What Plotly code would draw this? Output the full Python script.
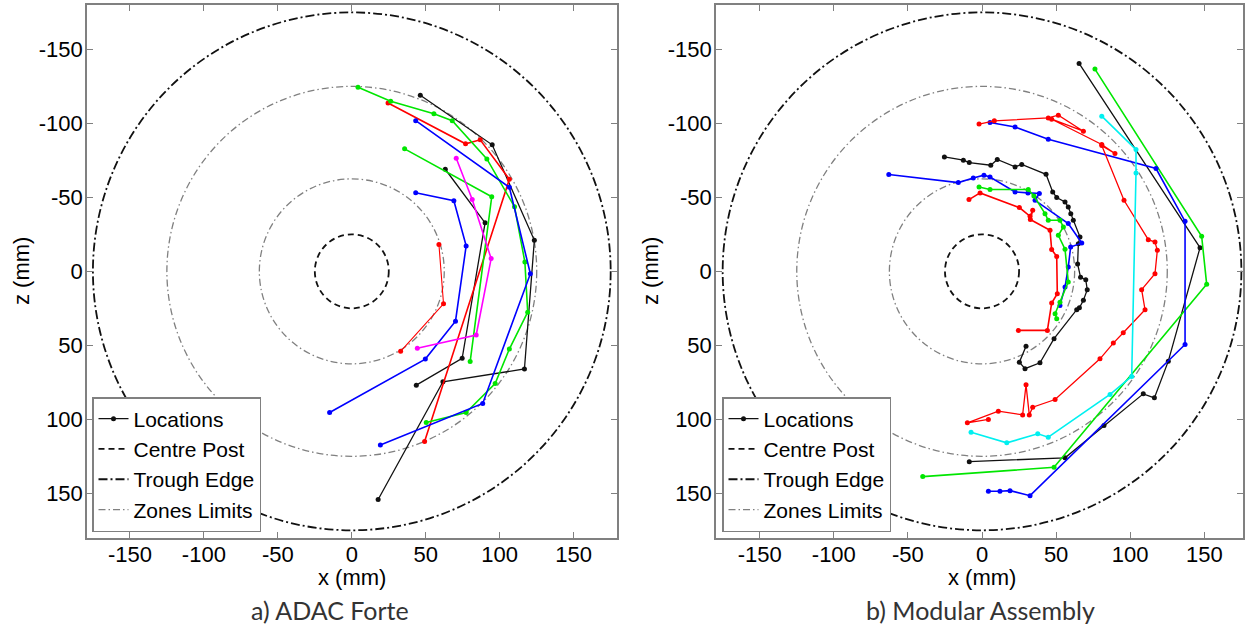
import plotly.graph_objects as go

# ---------------- data (mm) ----------------
tick_vals = [-150, -100, -50, 0, 50, 100, 150]
tick_text = ["-150", "-100", "-50", "0", "50", "100", "150"]

centre_post_r = 25
zone_r = [62.5, 125]
trough_r = 175

# Panel a) ADAC Forte
a_black1_x = [46.3, 94.9, 123.4, 116.7, 61.6, 17.8]
a_black1_z = [-119, -85.5, -21, 66, 74.6, 154.2]
a_black2_x = [63.2, 90.1, 74.6, 43.6]
a_black2_z = [-69, -32.8, 58.8, 76.9]
a_red1_x = [24.5, 76.9, 86.8, 106.5, 49.2]
a_red1_z = [-113.8, -86.2, -88.9, -62.2, 115]
a_red2_x = [58.9, 62, 33]
a_red2_z = [-18.1, 21.9, 54]
a_green1_x = [4.2, 26.3, 55.5, 67.9, 91.3, 110, 117, 118.9, 106.5, 96.9, 77.3, 50.3]
a_green1_z = [-124.4, -114.9, -106.5, -101.8, -76, -43.6, -6.3, 27.6, 52.5, 75.8, 95.4, 102.2]
a_green2_x = [35.7, 94.6, 80]
a_green2_z = [-82.8, -50.4, 61]
a_blue1_x = [43.2, 106.5, 120.7, 88.5, 19.3]
a_blue1_z = [-101.8, -56.8, 1.6, 89.3, 117.4]
a_blue2_x = [43.2, 69, 77.3, 70.1, 49.7, -15]
a_blue2_z = [-53.1, -47.7, -17.2, 33.7, 59.3, 95.4]
a_mag_x = [70.6, 81.4, 94.2, 84.1, 44.3]
a_mag_z = [-76.4, -48.6, -8.6, 43, 52]

# Panel b) Modular Assembly
b_black1_x = [65.5, 147.1, 125.7, 116.3, 108.8, 82.3, 56, -8.6]
b_black1_z = [-140.5, -16, 60.7, 85.5, 82.8, 104.2, 126, 128.6]
b_green1_x = [76.2, 148.2, 151.6, 48.6, -40]
b_green1_z = [-136.7, -23.7, 8.8, 132.4, 138.7]
b_blue1_x = [5.4, 22.3, 44.7, 117.4, 137, 137, 32.4, 18.9, 12.1, 4.3]
b_blue1_z = [-100.6, -97.6, -89.3, -69.5, -33.8, 49.4, 151.6, 148.2, 148.6, 148.6]
b_red1_x = [-2, 8.3, 44.7, 51.5, 68.4, 47, 80.8, 89.7, 80.8, 95.8, 112.2, 116.7, 118.3,
            116.7, 107.7, 110, 95.3, 88.6, 79.6, 49.3, 34.2, 31.9, 29.7, 27.4, 11, -9.9, 4.3]
b_red1_z = [-99.5, -101.7, -103.7, -105.5, -94.7, -102.8, -85.7, -79.6, -85, -48, -21.4, -19.8, -14.2,
            1.6, 12.4, 25.9, 41.5, 48.5, 59.1, 86.6, 91.8, 97, 76.7, 97, 94.5, 102.4, 100.1]
b_cyan_x = [80.8, 103.9, 103.9, 101, 86.4, 44.7, 37.6, 16.7, -7.4]
b_cyan_z = [-104.9, -82.3, -66.5, 71, 83.2, 112.1, 109.8, 115.9, 108.7]
b_black2_x = [-25.4, -12.6, -8.6, 5.9, 10.3, 22.3, 26.8, 43.2, 47.7, 50.4, 56, 58.2, 59.9, 61.6,
              66.1, 65, 64.5, 66.5, 70, 71, 68.4, 65.7, 63.9, 48.6, 39.1, 29, 25.2, 29.7]
b_black2_z = [-77.3, -75.1, -73.5, -71.7, -75.6, -70.6, -72.2, -65.6, -53.7, -49.9, -46.9, -43.5, -39, -34.5,
              -23.2, -18.7, -5, 4, 5.6, 12.4, 19.6, 24.6, 25.9, 45.5, 61.8, 65.8, 61.4, 50.7]
b_blue2_x = [-62.9, -16, -5.9, 1.3, 5.4, 22.3, 31, 38.7, 35.8, 58.2, 67.3, 59.8, 58.2, 56, 52.6]
b_blue2_z = [-65.4, -60, -63.1, -65, -63.8, -53.7, -53, -52.6, -48, -32.3, -19.2, -16.4, -2.9, 10.6, 23]
b_green2_x = [-2, 5.4, 31.2, 35, 42.5, 44.7, 52.6, 54.9, 51.5, 56, 58.2, 52.6, 49.3, 50.4]
b_green2_z = [-57, -55.3, -55.3, -51, -39, -34.5, -34.5, -30, -24.4, -15, 7.2, 20.8, 28.6, 32]
b_red2_x = [-8.8, -1.3, 25.2, 32.4, 34.2, 32.6, 45.9, 47, 50.4, 50.8, 47, 44.1, 24.5]
b_red2_z = [-48.5, -53, -43.1, -37.2, -41.3, -35, -27.7, -14.7, -10.1, 15.1, 21.4, 39.9, 39.9]

legend_names = ["Locations", "Centre Post", "Trough Edge", "Zones Limits"]
caption_a = "a) ADAC Forte"
caption_b = "b) Modular Assembly"

# ---------------- styles ----------------
BLACK = "#111111"
RED = "#ff0000"
GREEN = "#00e600"
BLUE = "#0000ff"
MAG = "#ff00ff"
CYAN = "#00f0f0"
GRAY = "#808080"
FONT = "Liberation Sans, Arial, sans-serif"

W, H = 1247, 628

fig = go.Figure()

def track(x, z, color, ax, width=1.6):
    xa, ya = ("x", "y") if ax == 1 else ("x2", "y2")
    fig.add_trace(go.Scatter(
        x=x, y=z, mode="lines+markers", xaxis=xa, yaxis=ya,
        line=dict(color=color, width=width),
        marker=dict(color=color, size=5, line=dict(width=0)),
        showlegend=False, hoverinfo="skip"))

track(a_black1_x, a_black1_z, BLACK, 1, 1.3)
track(a_black2_x, a_black2_z, BLACK, 1, 1.3)
track(a_red1_x, a_red1_z, RED, 1)
track(a_red2_x, a_red2_z, RED, 1, 1.1)
track(a_green1_x, a_green1_z, GREEN, 1)
track(a_green2_x, a_green2_z, GREEN, 1)
track(a_blue1_x, a_blue1_z, BLUE, 1)
track(a_blue2_x, a_blue2_z, BLUE, 1)
track(a_mag_x, a_mag_z, MAG, 1)

track(b_black1_x, b_black1_z, BLACK, 2, 1.3)
track(b_green1_x, b_green1_z, GREEN, 2)
track(b_blue1_x, b_blue1_z, BLUE, 2)
track(b_red1_x, b_red1_z, RED, 2, 1.3)
track(b_cyan_x, b_cyan_z, CYAN, 2)
track(b_black2_x, b_black2_z, BLACK, 2, 1.3)
track(b_blue2_x, b_blue2_z, BLUE, 2)
track(b_green2_x, b_green2_z, GREEN, 2)
track(b_red2_x, b_red2_z, RED, 2)

DASH_POST = "6px,4px"
DASH_TROUGH = "9px,3px,2px,3px"
DASH_ZONE = "7px,3px,1.5px,3px"

# legend entries (one legend per panel)
for ax, leg in ((1, "legend"), (2, "legend2")):
    xa, ya = ("x", "y") if ax == 1 else ("x2", "y2")
    fig.add_trace(go.Scatter(x=[None], y=[None], xaxis=xa, yaxis=ya, mode="lines+markers",
                             name=legend_names[0], legend=leg,
                             line=dict(color=BLACK, width=1.3), marker=dict(color=BLACK, size=5)))
    fig.add_trace(go.Scatter(x=[None], y=[None], xaxis=xa, yaxis=ya, mode="lines",
                             name=legend_names[1], legend=leg,
                             line=dict(color=BLACK, width=1.8, dash=DASH_POST)))
    fig.add_trace(go.Scatter(x=[None], y=[None], xaxis=xa, yaxis=ya, mode="lines",
                             name=legend_names[2], legend=leg,
                             line=dict(color=BLACK, width=1.8, dash=DASH_TROUGH)))
    fig.add_trace(go.Scatter(x=[None], y=[None], xaxis=xa, yaxis=ya, mode="lines",
                             name=legend_names[3], legend=leg,
                             line=dict(color=GRAY, width=1.3, dash=DASH_ZONE)))

# circles as shapes in data coordinates
shapes = []
for xr, yr in (("x", "y"), ("x2", "y2")):
    for r in zone_r:
        shapes.append(dict(type="circle", xref=xr, yref=yr, x0=-r, x1=r, y0=-r, y1=r,
                           line=dict(color=GRAY, width=1.3, dash=DASH_ZONE), layer="below"))
    shapes.append(dict(type="circle", xref=xr, yref=yr, x0=-centre_post_r, x1=centre_post_r,
                       y0=-centre_post_r, y1=centre_post_r,
                       line=dict(color=BLACK, width=1.8, dash=DASH_POST), layer="below"))
    shapes.append(dict(type="circle", xref=xr, yref=yr, x0=-trough_r, x1=trough_r,
                       y0=-trough_r, y1=trough_r,
                       line=dict(color=BLACK, width=1.8, dash=DASH_TROUGH), layer="below"))

def px(x):
    return x / W

def py(y):
    return (H - y) / H

axis_common = dict(
    tickvals=tick_vals, ticktext=tick_text, ticks="inside", ticklen=6, tickwidth=1,
    tickcolor=GRAY, showline=True, linecolor=GRAY, linewidth=1.5, mirror="ticks",
    showgrid=False, zeroline=False, tickfont=dict(family=FONT, size=22, color="black"),
)

legend_common = dict(
    bgcolor="white", bordercolor=GRAY, borderwidth=1.5,
    font=dict(family=FONT, size=21, color="black"),
    xanchor="left", yanchor="bottom", tracegroupgap=0, itemwidth=30,
)

fig.update_layout(
    width=W, height=H,
    margin=dict(l=0, r=0, t=0, b=0),
    paper_bgcolor="white", plot_bgcolor="white",
    xaxis=dict(domain=[px(87), px(616.6)], range=[-179, 179], anchor="y",
               ticklabelstandoff=-4, **axis_common),
    yaxis=dict(domain=[py(537.7), py(5)], range=[180, -180], anchor="x",
               ticklabelstandoff=-2, **axis_common),
    xaxis2=dict(domain=[px(716), px(1243)], range=[-179.5, 176.1], anchor="y2",
                ticklabelstandoff=-4, **axis_common),
    yaxis2=dict(domain=[py(537.7), py(5)], range=[180, -180], anchor="x2",
                ticklabelstandoff=-2, **axis_common),
    shapes=shapes,
    legend=dict(x=px(92), y=py(532), **legend_common),
    legend2=dict(x=px(722), y=py(532), **legend_common),
    annotations=[
        dict(text="x (mm)", x=px(352), y=py(577), xref="paper", yref="paper", showarrow=False,
             font=dict(family=FONT, size=22, color="black"), xanchor="center", yanchor="middle"),
        dict(text="x (mm)", x=px(982), y=py(577), xref="paper", yref="paper", showarrow=False,
             font=dict(family=FONT, size=22, color="black"), xanchor="center", yanchor="middle"),
        dict(text="z (mm)", x=px(21), y=py(271), xref="paper", yref="paper", showarrow=False,
             textangle=-90, font=dict(family=FONT, size=22, color="black"),
             xanchor="center", yanchor="middle"),
        dict(text="z (mm)", x=px(650), y=py(271), xref="paper", yref="paper", showarrow=False,
             textangle=-90, font=dict(family=FONT, size=22, color="black"),
             xanchor="center", yanchor="middle"),
        dict(text=caption_a, x=px(330), y=py(610), xref="paper", yref="paper", showarrow=False,
             font=dict(family="Lato, Open Sans, sans-serif", size=25, color="#333333"),
             xanchor="center", yanchor="middle"),
        dict(text=caption_b, x=px(980), y=py(610), xref="paper", yref="paper", showarrow=False,
             font=dict(family="Lato, Open Sans, sans-serif", size=25, color="#333333"),
             xanchor="center", yanchor="middle"),
    ],
)

fig.write_html("out.html", config={"displayModeBar": False},
               post_script="document.body.style.margin='0';document.body.style.overflow='hidden';")
